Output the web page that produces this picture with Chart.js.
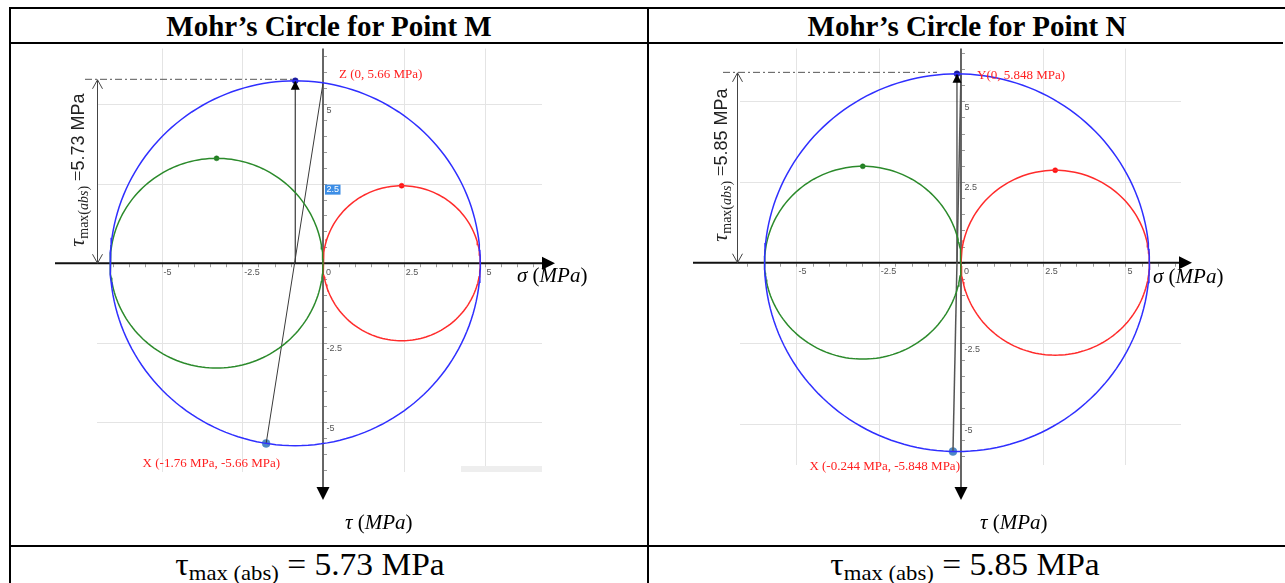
<!DOCTYPE html>
<html>
<head>
<meta charset="utf-8">
<script src="https://cdn.jsdelivr.net/npm/chart.js@4/dist/chart.umd.min.js"></script>
<style>
  body{margin:0;background:#fff;width:1285px;height:583px;overflow:hidden;position:relative;font-family:"Liberation Serif","Times New Roman",serif;color:#000}
  .ln{position:absolute;background:#000}
  .title{position:absolute;top:9px;width:636px;height:34px;line-height:34px;font-weight:bold;font-size:29px;text-align:center;white-space:nowrap}
  .foot{position:absolute;top:547px;width:636px;height:36px;line-height:36px;font-size:31px;text-align:center;white-space:nowrap;transform:scaleX(1.08)}
  .foot span{font-size:21px;position:relative;top:5px}
  canvas{position:absolute;top:44px}
</style>
</head>
<body>
<div class="ln" style="left:9px;top:7px;width:1276px;height:2px"></div>
<div class="ln" style="left:9px;top:42px;width:1274px;height:2px"></div>
<div class="ln" style="left:9px;top:545px;width:1276px;height:2px"></div>
<div class="ln" style="left:9px;top:7px;width:2px;height:576px"></div>
<div class="ln" style="left:647px;top:7px;width:2px;height:576px"></div>

<div class="title" style="left:11px">Mohr’s Circle for Point M</div>
<div class="title" style="left:649px">Mohr’s Circle for Point N</div>

<canvas id="chartM" width="636" height="501" style="left:11px"></canvas>
<canvas id="chartN" width="636" height="501" style="left:649px"></canvas>

<div class="foot" style="left:-8px">τ<span>max (abs)</span> = 5.73 MPa</div>
<div class="foot" style="left:647px">τ<span>max (abs)</span> = 5.85 MPa</div>

<script>
// tick positions and labels shared by both graphs
const gridValues = [-5, -2.5, 0, 2.5, 5];
const gridLabels = ['-5', '-2.5', '0', '2.5', '5'];

// principal stresses [sigma1, sigma2, sigma3] (MPa)
const principalM = [4.87, 0, -6.59];
const principalN = [5.727, 0, -5.971];

// plotted stress points [sigma, tau]
const pointXM = [-1.76, -5.66];
const pointZM = [0, 5.66];
const pointXN = [-0.244, -5.848];
const pointYN = [0, 5.848];

const tauMaxM = 5.73;
const tauMaxN = 5.85;

const labelsM = ['Z (0, 5.66 MPa)', 'X (-1.76 MPa, -5.66 MPa)'];
const labelsN = ['Y(0, 5.848 MPa)', 'X (-0.244 MPa, -5.848 MPa)'];

const BLUE = '#2f2fff', GREEN = '#2b8a2b', RED = '#ff2b2b';

function circlePts(c, r){
  const pts = [];
  for(let i = 0; i <= 180; i++){
    const a = i / 180 * 2 * Math.PI;
    pts.push({x: c + r * Math.cos(a), y: r * Math.sin(a)});
  }
  return pts;
}

function seg(ctx, x1, y1, x2, y2){
  ctx.beginPath(); ctx.moveTo(x1, y1); ctx.lineTo(x2, y2); ctx.stroke();
}

function tri(ctx, pts){
  ctx.beginPath(); ctx.moveTo(pts[0], pts[1]); ctx.lineTo(pts[2], pts[3]); ctx.lineTo(pts[4], pts[5]);
  ctx.closePath(); ctx.fill();
}

// draw a run of differently styled text pieces from x, returns end x
function runText(ctx, parts, x, y, measureOnly){
  parts.forEach(p => {
    ctx.font = p.f;
    if(!measureOnly) ctx.fillText(p.t, x, y + (p.dy || 0));
    x += ctx.measureText(p.t).width;
  });
  return x;
}

const mohrPlugin = {
  id: 'mohr',
  beforeDatasetsDraw(chart, args, o){
    const {ctx, chartArea: a} = chart;
    const sx = chart.scales.x, sy = chart.scales.y;
    const ox = sx.getPixelForValue(0), oy = sy.getPixelForValue(0);
    ctx.save();
    ctx.strokeStyle = '#e4e4e4';
    ctx.lineWidth = 1;
    gridValues.forEach(v => {
      if(v === 0) return;
      const px = Math.round(sx.getPixelForValue(v)) + 0.5;
      const py = Math.round(sy.getPixelForValue(v)) + 0.5;
      seg(ctx, px, a.top, px, a.bottom);
      seg(ctx, a.left, py, a.right, py);
    });
    if(o.band){
      ctx.fillStyle = '#eeeeee';
      ctx.fillRect(a.right - o.band, a.bottom - 6, o.band, 6);
    }
    // minor ticks
    ctx.strokeStyle = '#9a9a9a';
    for(let v = -6.5; v <= 6.5; v += 0.5){
      const px = Math.round(sx.getPixelForValue(v)) + 0.5;
      if(px > a.left && px < a.right) seg(ctx, px, oy + 1, px, oy + 4);
      const py = Math.round(sy.getPixelForValue(v)) + 0.5;
      if(py > a.top && py < a.bottom) seg(ctx, ox + 1, py, ox + 4, py);
    }
    // axes with arrow heads
    ctx.fillStyle = '#000';
    ctx.strokeStyle = '#111';
    ctx.lineWidth = 2;
    seg(ctx, o.sigmaStart, oy, o.sigmaTip - 12, oy);
    tri(ctx, [o.sigmaTip, oy, o.sigmaTip - 13, oy - 6.5, o.sigmaTip - 13, oy + 6.5]);
    ctx.strokeStyle = '#333';
    ctx.lineWidth = 1.5;
    seg(ctx, ox, a.top, ox, o.tauTip - 12);
    tri(ctx, [ox, o.tauTip, ox - 6.5, o.tauTip - 13, ox + 6.5, o.tauTip - 13]);
    // tick labels
    ctx.font = '9px "Liberation Sans", Arial, sans-serif';
    ctx.textBaseline = 'middle';
    ctx.textAlign = 'left';
    gridValues.forEach((v, i) => {
      const px = sx.getPixelForValue(v);
      ctx.fillStyle = '#555';
      ctx.fillText(gridLabels[i], v === 0 ? ox + 3 : px + 2, oy + 9);
      if(v === 0) return;
      const py = sy.getPixelForValue(v);
      if(o.highlight === v){
        const w = ctx.measureText(gridLabels[i]).width;
        ctx.fillStyle = '#3d8ee6';
        ctx.fillRect(ox + 2, py + 1, w + 3, 10);
        ctx.fillStyle = '#fff';
      }
      ctx.fillText(gridLabels[i], ox + 3.5, py + 6);
    });
    ctx.restore();
  },
  afterDatasetsDraw(chart, args, o){
    const {ctx} = chart;
    const sx = chart.scales.x, sy = chart.scales.y;
    const ox = sx.getPixelForValue(0), oy = sy.getPixelForValue(0);
    const pc = sx.getPixelForValue(o.center), pr = sy.getPixelForValue(o.radius);
    ctx.save();
    // arrow head of the tau max arrow
    ctx.fillStyle = '#000';
    tri(ctx, [pc, pr, pc - 4.5, pr + 9, pc + 4.5, pr + 9]);
    // dimension: dash-dot line and double arrow
    ctx.strokeStyle = '#555';
    ctx.lineWidth = 1;
    ctx.setLineDash([7, 3, 2, 3]);
    seg(ctx, o.dashStart, pr - 1.5, o.dashEnd, pr - 1.5);
    ctx.setLineDash([]);
    ctx.strokeStyle = '#444';
    const dx = o.dimX;
    seg(ctx, dx, pr - 1, dx, oy);
    ctx.beginPath();
    ctx.moveTo(dx - 5, pr + 8); ctx.lineTo(dx, pr - 1); ctx.lineTo(dx + 5, pr + 8);
    ctx.moveTo(dx - 5, oy - 9); ctx.lineTo(dx, oy); ctx.lineTo(dx + 5, oy - 9);
    ctx.stroke();
    // rotated tau max label
    const parts = [
      {t: 'τ', f: 'italic 22px "Liberation Serif", serif'},
      {t: 'max', f: '14px "Liberation Serif", serif', dy: 4},
      {t: '(', f: '14px "Liberation Serif", serif', dy: 4},
      {t: 'abs', f: 'italic 14px "Liberation Serif", serif', dy: 4},
      {t: ')', f: '14px "Liberation Serif", serif', dy: 4},
      {t: ' =', f: '19px "Liberation Serif", serif'},
      {t: o.tauMax.toFixed(2) + ' MPa', f: '18px "Liberation Sans", Arial, sans-serif'}
    ];
    ctx.save();
    ctx.translate(o.dimLabel[0], o.dimLabel[1]);
    ctx.rotate(-Math.PI / 2);
    ctx.fillStyle = '#222';
    ctx.textBaseline = 'alphabetic';
    ctx.textAlign = 'left';
    const w = runText(ctx, parts, 0, 0, true);
    runText(ctx, parts, -w / 2, 0);
    ctx.restore();
    // point labels
    ctx.fillStyle = '#ff2020';
    ctx.font = '13px "Liberation Serif", serif';
    ctx.textBaseline = 'middle';
    const top = o.topPoint, bot = o.botPoint;
    ctx.textAlign = 'left';
    ctx.fillText(o.labels[0], sx.getPixelForValue(top[0]) + o.topOff[0], sy.getPixelForValue(top[1]) + o.topOff[1]);
    ctx.textAlign = 'right';
    ctx.fillText(o.labels[1], sx.getPixelForValue(bot[0]) + o.botOff[0], sy.getPixelForValue(bot[1]) + o.botOff[1]);
    // axis names
    ctx.fillStyle = '#000';
    ctx.textAlign = 'left';
    ctx.textBaseline = 'alphabetic';
    const it = 'italic 21px "Liberation Serif", serif', rm = '21px "Liberation Serif", serif';
    runText(ctx, [{t: 'σ', f: it}, {t: ' (', f: rm}, {t: 'MPa', f: it}, {t: ')', f: rm}], o.sigmaLabel[0], o.sigmaLabel[1]);
    runText(ctx, [{t: 'τ', f: it}, {t: ' (', f: rm}, {t: 'MPa', f: it}, {t: ')', f: rm}], o.tauLabel[0], o.tauLabel[1]);
    ctx.restore();
  }
};

function makeChart(id, principal, pX, pTop, tauMax, labels, view, extra){
  const [s1, s2, s3] = principal;
  const cB = (s1 + s3) / 2, rB = (s1 - s3) / 2;
  const cG = (s2 + s3) / 2, rG = (s2 - s3) / 2;
  const cR = (s1 + s2) / 2, rR = (s1 - s2) / 2;
  const line = (data, color, width) => ({data, showLine: true, borderColor: color, borderWidth: width, pointRadius: 0, fill: false, clip: false, tension: 0});
  const dots = (data, color, r) => ({data, showLine: false, pointRadius: r, pointBackgroundColor: color, pointBorderColor: color, pointBorderWidth: 0.5, clip: false});
  return new Chart(document.getElementById(id), {
    type: 'scatter',
    data: {
      datasets: [
        line(circlePts(cB, rB), BLUE, 1.5),
        line(circlePts(cG, rG), GREEN, 1.5),
        line(circlePts(cR, rR), RED, 1.5),
        line([{x: pX[0], y: pX[1]}, {x: pTop[0], y: pTop[1]}], extra.lineColor, extra.lineWidth),
        line([{x: cB, y: 0}, {x: cB, y: rB}], '#111', 1),
        dots([{x: cG, y: rG}], '#1f7a1f', 2.5),
        dots([{x: cR, y: rR}], '#ff1010', 2.5),
        dots([{x: cB, y: rB}], '#1a1aa0', 3),
        dots([{x: pX[0], y: pX[1]}], '#4d88c4', 4)
      ]
    },
    options: {
      responsive: false,
      animation: false,
      events: [],
      layout: {padding: view.padding},
      scales: {
        x: {type: 'linear', display: false, min: view.x[0], max: view.x[1]},
        y: {type: 'linear', display: false, min: view.y[0], max: view.y[1]}
      },
      plugins: {
        legend: {display: false},
        tooltip: {enabled: false},
        mohr: Object.assign({center: cB, radius: rB, tauMax, labels, topPoint: pTop, botPoint: pX}, extra)
      }
    },
    plugins: [mohrPlugin]
  });
}

makeChart('chartM', principalM, pointXM, pointZM, tauMaxM, labelsM,
  {padding: {left: 86, right: 105, top: 1, bottom: 73}, x: [-6.997, 6.780], y: [-6.558, 6.745]},
  {lineColor: '#3a3a3a', lineWidth: 1, highlight: 2.5, band: 81,
   sigmaStart: 44, sigmaTip: 544, tauTip: 456,
   dashStart: 74, dashEnd: 281, dimX: 86.5, dimLabel: [73, 126],
   topOff: [16, -8], botOff: [14, 20],
   sigmaLabel: [506, 238], tauLabel: [334, 485]});

makeChart('chartN', principalN, pointXN, pointYN, tauMaxN, labelsN,
  {padding: {left: 91, right: 104, top: 1, bottom: 80}, x: [-6.717, 6.687], y: [-6.265, 6.634]},
  {lineColor: '#555', lineWidth: 1.5, highlight: null, band: 0,
   sigmaStart: 44, sigmaTip: 543, tauTip: 456,
   dashStart: 74, dashEnd: 288, dimX: 88.5, dimLabel: [78, 121],
   topOff: [16, 2], botOff: [7, 15],
   sigmaLabel: [504, 239], tauLabel: [331, 485]});
</script>
</body>
</html>
